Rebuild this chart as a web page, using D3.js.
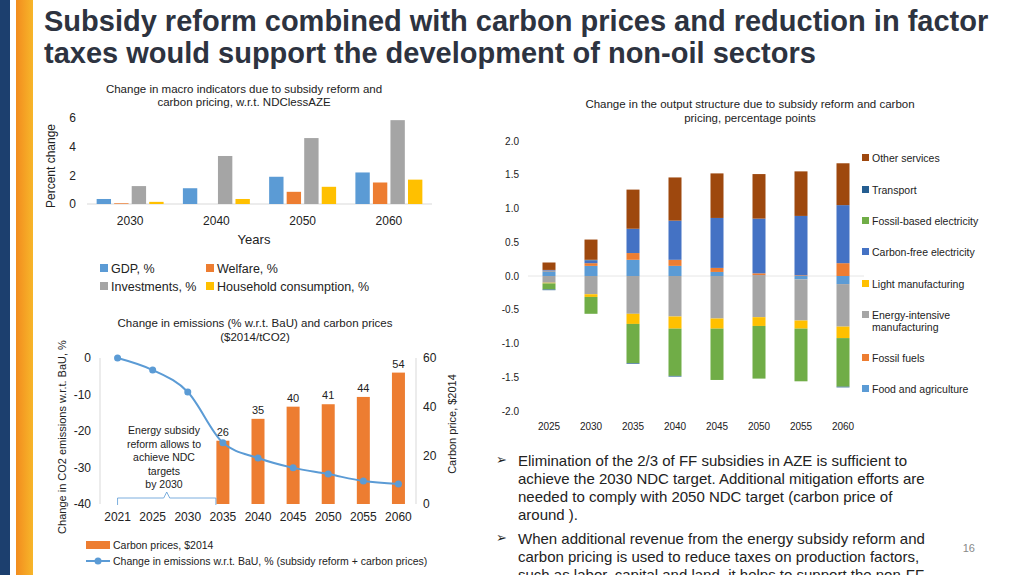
<!DOCTYPE html>
<html><head><meta charset="utf-8">
<script src="https://cdn.jsdelivr.net/npm/d3@7"></script>
<style>body{margin:0;background:#fff;font-family:"Liberation Sans",Arial,sans-serif}svg{display:block}</style>
</head><body><svg width="1024" height="575"></svg>
<script>
// macro chart
var macroYears = ["2030", "2040", "2050", "2060"];
var macroSeries = ["GDP, %", "Welfare, %", "Investments, %", "Household consumption, %"];
var gdp = [0.35, 1.1, 1.9, 2.2];
var welfare = [0.05, 0, 0.85, 1.5];
var invest = [1.25, 3.35, 4.6, 5.85];
var household = [0.15, 0.35, 1.2, 1.7];
var macroColors = ["#5b9bd5", "#ed7d31", "#a5a5a5", "#ffc000"];

// emissions chart
var emYears = ["2021", "2025", "2030", "2035", "2040", "2045", "2050", "2055", "2060"];
var carbonPrice = [null, null, null, 26, 35, 40, 41, 44, 54];
var emissions = [0, -3.3, -9.3, -23.2, -27.4, -30.1, -31.8, -33.7, -34.5];

// output structure chart
var outYears = ["2025", "2030", "2035", "2040", "2045", "2050", "2055", "2060"];
var sectors = ["Food and agriculture", "Fossil fuels", "Energy-intensive manufacturing", "Light manufacturing",
  "Carbon-free electricity", "Fossil-based electricity", "Transport", "Other services"];
var sectorColors = ["#5b9bd5", "#ed7d31", "#a5a5a5", "#ffc000", "#4472c4", "#70ad47", "#255e91", "#9e480e"];
var foodAgri   = [0.07, 0.15, 0.24, 0.15, 0.06, 0.01, -0.05, -0.12];
var fossilFuel = [0.01, 0.04, 0.10, 0.09, 0.06, 0.03, 0.01, 0.19];
var energyInt  = [-0.10, -0.27, -0.56, -0.60, -0.63, -0.61, -0.61, -0.63];
var lightMan   = [-0.01, -0.04, -0.15, -0.18, -0.15, -0.13, -0.12, -0.17];
var carbonFree = [0.01, 0.04, 0.36, 0.58, 0.74, 0.81, 0.88, 0.86];
var fossilElec = [-0.09, -0.25, -0.58, -0.70, -0.76, -0.78, -0.78, -0.72];
var transport  = [-0.01, 0.01, -0.01, -0.01, 0, 0, 0, -0.01];
var otherServ  = [0.11, 0.30, 0.58, 0.64, 0.66, 0.66, 0.66, 0.62];

var svg = d3.select("svg");
var txt = "#222";
var hy = function (f) { return function (d) { return f(d).replace("−", "-"); }; };

// side strip
var grad = svg.append("defs").append("linearGradient").attr("id", "og").attr("x1", 0).attr("x2", 1);
grad.append("stop").attr("offset", 0).attr("stop-color", "#f28c1e");
grad.append("stop").attr("offset", 1).attr("stop-color", "#f7b62a");
svg.append("rect").attr("x", 0).attr("y", 0).attr("width", 10).attr("height", 575).attr("fill", "#1c3f6e");
svg.append("rect").attr("x", 16).attr("y", 0).attr("width", 17).attr("height", 575).attr("fill", "url(#og)");

svg.append("text").attr("x", 44).attr("y", 31).attr("font-size", 29).attr("font-weight", "bold").attr("fill", "#2d3340")
  .text("Subsidy reform combined with carbon prices and reduction in factor");
svg.append("text").attr("x", 44).attr("y", 63).attr("font-size", 29).attr("font-weight", "bold").attr("fill", "#2d3340")
  .text("taxes would support the development of non-oil sectors");

// ---------- macro chart
(function () {
  var g = svg.append("g");
  var x = d3.scaleBand().domain(macroYears).range([87, 432]);
  var x1 = d3.scaleBand().domain(macroSeries).range([0, x.bandwidth()]).paddingInner(0.18).paddingOuter(0.55);
  var y = d3.scaleLinear().domain([0, 6]).range([204, 118]);
  var vals = [gdp, welfare, invest, household];
  g.append("line").attr("x1", 87).attr("x2", 432).attr("y1", y(0)).attr("y2", y(0)).attr("stroke", "#d9d9d9");
  macroSeries.forEach(function (s, si) {
    g.selectAll(null).data(vals[si]).enter().append("rect")
      .attr("x", function (d, i) { return x(macroYears[i]) + x1(s); })
      .attr("width", x1.bandwidth())
      .attr("y", function (d) { return y(d); })
      .attr("height", function (d) { return y(0) - y(d); })
      .attr("fill", macroColors[si]);
  });
  var ay = g.append("g").attr("transform", "translate(84,0)").call(d3.axisLeft(y).ticks(3).tickSize(0).tickPadding(8));
  ay.select(".domain").remove();
  ay.selectAll("text").attr("font-size", 12).attr("fill", txt).attr("font-family", "Liberation Sans");
  var ax = g.append("g").attr("transform", "translate(0,210)").call(d3.axisBottom(x).tickSize(0).tickPadding(6));
  ax.select(".domain").remove();
  ax.selectAll("text").attr("font-size", 12).attr("fill", txt).attr("font-family", "Liberation Sans");
  g.append("text").attr("x", 254).attr("y", 244).attr("text-anchor", "middle").attr("font-size", 13).attr("fill", txt).text("Years");
  g.append("text").attr("transform", "translate(55,166) rotate(-90)").attr("text-anchor", "middle").attr("font-size", 12).attr("fill", txt).text("Percent change");
  g.append("text").attr("x", 244).attr("y", 93).attr("text-anchor", "middle").attr("font-size", 11.5).attr("fill", txt).text("Change in macro indicators due to subsidy reform and");
  g.append("text").attr("x", 244).attr("y", 106).attr("text-anchor", "middle").attr("font-size", 11.5).attr("fill", txt).text("carbon pricing, w.r.t. NDClessAZE");
  var pos = [[100, 268], [206, 268], [100, 286], [206, 286]];
  macroSeries.forEach(function (s, i) {
    g.append("rect").attr("x", pos[i][0]).attr("y", pos[i][1] - 4).attr("width", 8).attr("height", 8).attr("fill", macroColors[i]);
    g.append("text").attr("x", pos[i][0] + 11).attr("y", pos[i][1] + 4.5).attr("font-size", 12.5).attr("fill", txt).text(s);
  });
})();

// ---------- emissions chart
(function () {
  var g = svg.append("g");
  var x = d3.scaleBand().domain(emYears).range([100, 416]);
  var yl = d3.scaleLinear().domain([-40, 0]).range([504, 358]);
  var yr = d3.scaleLinear().domain([0, 60]).range([504, 358]);
  var bw = 13;
  g.append("line").attr("x1", 100).attr("x2", 100).attr("y1", 358).attr("y2", 504).attr("stroke", "#d9d9d9");
  g.append("line").attr("x1", 416).attr("x2", 416).attr("y1", 358).attr("y2", 504).attr("stroke", "#d9d9d9");
  var bars = emYears.map(function (yv, i) { return { year: yv, v: carbonPrice[i] }; }).filter(function (d) { return d.v != null; });
  g.selectAll(null).data(bars).enter().append("rect")
    .attr("x", function (d) { return x(d.year) + x.bandwidth() / 2 - bw / 2; }).attr("width", bw)
    .attr("y", function (d) { return yr(d.v); }).attr("height", function (d) { return yr(0) - yr(d.v); })
    .attr("fill", "#ed7d31");
  g.selectAll(null).data(bars).enter().append("text")
    .attr("x", function (d) { return x(d.year) + x.bandwidth() / 2; }).attr("y", function (d) { return yr(d.v) - 5; })
    .attr("text-anchor", "middle").attr("font-size", 11).attr("fill", txt).text(function (d) { return d.v; });
  var cx = function (d, i) { return x(emYears[i]) + x.bandwidth() / 2; };
  g.append("path").datum(emissions)
    .attr("d", d3.line().x(cx).y(function (d) { return yl(d); }).curve(d3.curveMonotoneX))
    .attr("fill", "none").attr("stroke", "#5b9bd5").attr("stroke-width", 2);
  g.selectAll(null).data(emissions).enter().append("circle")
    .attr("cx", cx).attr("cy", function (d) { return yl(d); }).attr("r", 3.5).attr("fill", "#5b9bd5");
  var al = g.append("g").attr("transform", "translate(97,0)").call(d3.axisLeft(yl).ticks(4).tickFormat(hy(d3.format("d"))).tickSize(0).tickPadding(6));
  al.select(".domain").remove();
  var ar = g.append("g").attr("transform", "translate(419,0)").call(d3.axisRight(yr).ticks(3).tickSize(0).tickPadding(4));
  ar.select(".domain").remove();
  var ab = g.append("g").attr("transform", "translate(0,508)").call(d3.axisBottom(x).tickSize(0).tickPadding(4));
  ab.select(".domain").remove();
  g.selectAll(".tick text").attr("font-size", 12).attr("fill", txt).attr("font-family", "Liberation Sans");
  g.append("text").attr("transform", "translate(66,437) rotate(-90)").attr("text-anchor", "middle").attr("font-size", 11).attr("fill", txt).text("Change in CO2 emissions w.r.t. BaU, %");
  g.append("text").attr("transform", "translate(456,424) rotate(-90)").attr("text-anchor", "middle").attr("font-size", 11).attr("fill", txt).text("Carbon price, $2014");
  g.append("text").attr("x", 255).attr("y", 327).attr("text-anchor", "middle").attr("font-size", 11.5).attr("fill", txt).text("Change in emissions (% w.r.t. BaU) and carbon prices");
  g.append("text").attr("x", 255).attr("y", 341).attr("text-anchor", "middle").attr("font-size", 11.5).attr("fill", txt).text("($2014/tCO2)");
  ["Energy subsidy", "reform allows to", "achieve NDC", "targets", "by 2030"].forEach(function (t, i) {
    g.append("text").attr("x", 164).attr("y", 434 + i * 13.5).attr("text-anchor", "middle").attr("font-size", 10.5).attr("fill", txt).text(t);
  });
  var x0 = x("2021") + x.bandwidth() / 2, x2 = x("2035") + x.bandwidth() / 2 - 7, xm = (x0 + x2) / 2;
  g.append("path").attr("d", "M" + x0 + ",505 V498 H" + (xm - 3) + " L" + xm + ",492 L" + (xm + 3) + ",498 H" + x2 + " V505")
    .attr("fill", "none").attr("stroke", "#5b9bd5").attr("stroke-width", 0.8);
  g.append("rect").attr("x", 86).attr("y", 541).attr("width", 24).attr("height", 8).attr("fill", "#ed7d31");
  g.append("text").attr("x", 113).attr("y", 549).attr("font-size", 10.5).attr("fill", txt).text("Carbon prices, $2014");
  g.append("line").attr("x1", 86).attr("x2", 110).attr("y1", 561).attr("y2", 561).attr("stroke", "#5b9bd5").attr("stroke-width", 2);
  g.append("circle").attr("cx", 98).attr("cy", 561).attr("r", 3.5).attr("fill", "#5b9bd5");
  g.append("text").attr("x", 113).attr("y", 565).attr("font-size", 10.5).attr("fill", txt).text("Change in emissions w.r.t. BaU, % (subsidy reform + carbon prices)");
})();

// ---------- output structure chart
(function () {
  var g = svg.append("g");
  var cols = [foodAgri, fossilFuel, energyInt, lightMan, carbonFree, fossilElec, transport, otherServ];
  var rows = outYears.map(function (yv, i) {
    var r = { year: yv };
    sectors.forEach(function (s, si) { r[s] = cols[si][i]; });
    return r;
  });
  var stack = d3.stack().keys(sectors).offset(d3.stackOffsetDiverging)(rows);
  var x = d3.scaleBand().domain(outYears).range([528, 864]);
  var y = d3.scaleLinear().domain([-2, 2]).range([411, 141]);
  var bw = 13;
  g.append("line").attr("x1", 528).attr("x2", 864).attr("y1", y(0)).attr("y2", y(0)).attr("stroke", "#e6e6e6");
  stack.forEach(function (layer, li) {
    g.selectAll(null).data(layer).enter().append("rect")
      .attr("x", function (d) { return x(d.data.year) + x.bandwidth() / 2 - bw / 2; }).attr("width", bw)
      .attr("y", function (d) { return y(Math.max(d[0], d[1])); })
      .attr("height", function (d) { return Math.abs(y(d[0]) - y(d[1])); })
      .attr("fill", sectorColors[li]);
  });
  var al = g.append("g").attr("transform", "translate(522,0)").call(d3.axisLeft(y).ticks(8).tickFormat(hy(d3.format(".1f"))).tickSize(0));
  al.select(".domain").remove();
  var ab = g.append("g").attr("transform", "translate(0,420)").call(d3.axisBottom(x).tickSize(0));
  ab.select(".domain").remove();
  g.selectAll(".tick text").attr("font-size", 10).attr("fill", txt).attr("font-family", "Liberation Sans");
  g.append("text").attr("x", 750).attr("y", 108).attr("text-anchor", "middle").attr("font-size", 11.5).attr("fill", txt).text("Change in the output structure due to subsidy reform and carbon");
  g.append("text").attr("x", 750).attr("y", 122).attr("text-anchor", "middle").attr("font-size", 11.5).attr("fill", txt).text("pricing, percentage points");
  var legY = [158, 190, 221, 252, 284, 315, 358, 389];
  var order = sectors.slice().reverse();
  order.forEach(function (s, i) {
    var c = sectorColors[sectors.indexOf(s)];
    g.append("rect").attr("x", 862).attr("y", legY[i] - 4).attr("width", 7).attr("height", 7).attr("fill", c);
    if (s === "Energy-intensive manufacturing") {
      g.append("text").attr("x", 872).attr("y", 319).attr("font-size", 10.5).attr("fill", txt).text("Energy-intensive");
      g.append("text").attr("x", 872).attr("y", 331).attr("font-size", 10.5).attr("fill", txt).text("manufacturing");
    } else {
      g.append("text").attr("x", 872).attr("y", legY[i] + 4).attr("font-size", 10.5).attr("fill", txt).text(s);
    }
  });
})();

// ---------- bullet text
var bl = [
  { y: 466, lines: ["Elimination of the 2/3 of FF subsidies in AZE is sufficient to", "achieve the 2030 NDC target. Additional mitigation efforts are", "needed to comply with 2050 NDC target (carbon price of", "around )."] },
  { y: 544, lines: ["When additional revenue from the energy subsidy reform and", "carbon pricing is used to reduce taxes on production factors,", "such as labor, capital and land, it helps to support the non-FF"] }
];
bl.forEach(function (b) {
  svg.append("text").attr("x", 496).attr("y", b.y - 2).attr("font-size", 13).attr("fill", txt).text("➢");
  b.lines.forEach(function (l, i) {
    svg.append("text").attr("x", 518).attr("y", b.y + i * 18).attr("font-size", 15).attr("fill", txt).text(l);
  });
});
svg.append("text").attr("x", 975).attr("y", 552).attr("text-anchor", "end").attr("font-size", 11).attr("fill", "#888").text("16");
</script></body></html>
